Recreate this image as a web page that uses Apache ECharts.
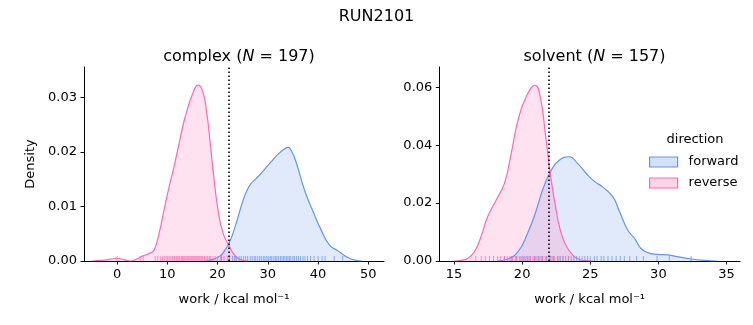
<!DOCTYPE html>
<html><head><meta charset="utf-8">
<script src="https://cdn.jsdelivr.net/npm/echarts@6/dist/echarts.min.js"></script>
<style>html,body{margin:0;padding:0;background:#fff}#c{width:753px;height:325px}</style>
</head><body><div id="c"></div>
<script>
// ---- data ----
const suptitle = 'RUN2101';
const nComplex = 197;
const nSolvent = 157;
const directions = ['forward', 'reverse'];

// complex, reverse KDE
const complexRevX = [-5, -3, -1.5, 0, 1.5, 2.7, 4, 5, 5.7, 6.7, 7.4, 8.35, 9.35, 10.3, 11.35, 12.5, 13.3, 14, 15, 16.1, 17, 17.8, 18.5, 19.1, 20.1, 21.1, 22.4, 23.2, 24.1, 25, 26];
const complexRevY = [0, 0.0001, 0.0003, 0.0005, 0.0002, 0.0000, 0.0004, 0.0009, 0.0011, 0.0015, 0.002, 0.005, 0.0093, 0.0133, 0.0173, 0.0222, 0.0255, 0.0278, 0.0305, 0.0322, 0.0312, 0.0275, 0.022, 0.0167, 0.0093, 0.0051, 0.0026, 0.0013, 0.0005, 0.0001, 0];
// complex, forward KDE
const complexFwdX = [17.5, 19.1, 20.5, 21.1, 22.4, 23.7, 25.1, 26.0, 26.7, 27.8, 29.0, 30.5, 32.3, 33.3, 34.0, 34.8, 35.7, 37.3, 38.9, 40.6, 42.3, 43.9, 45.6, 47.6, 48.7];
const complexFwdY = [0, 0.0003, 0.0009, 0.0015, 0.0035, 0.0069, 0.0112, 0.0132, 0.0142, 0.0152, 0.0164, 0.0180, 0.0198, 0.0205, 0.0208, 0.0200, 0.0179, 0.013, 0.0093, 0.0057, 0.0029, 0.0019, 0.0008, 0.0001, 0];
// solvent, reverse KDE
const solventRevX = [15.0, 15.5, 16.0, 16.5, 16.98, 17.47, 18.1, 18.7, 19.2, 19.7, 20.3, 20.95, 21.37, 21.7, 22.1, 22.45, 22.8, 23.2, 23.7, 24.2, 24.7, 25.2];
const solventRevY = [0, 0.0002, 0.0009, 0.0032, 0.0084, 0.0153, 0.0211, 0.0268, 0.0372, 0.0487, 0.0567, 0.0607, 0.0556, 0.0441, 0.0291, 0.0188, 0.0107, 0.0055, 0.0021, 0.0005, 0.0001, 0];
// solvent, forward KDE
const solventFwdX = [18.2, 18.9, 19.7, 20.4, 21.0, 21.5, 22.1, 22.7, 23.45, 24.05, 24.7, 25.3, 25.9, 26.65, 27.1, 27.75, 28.3, 28.7, 29.2, 29.95, 30.7, 31.4, 32.4, 33.4, 34.3];
const solventFwdY = [0, 0.0006, 0.0032, 0.0096, 0.017, 0.0245, 0.031, 0.0347, 0.036, 0.0338, 0.0303, 0.0275, 0.0256, 0.0222, 0.0176, 0.0107, 0.0075, 0.0044, 0.0029, 0.0023, 0.0021, 0.0015, 0.0007, 0.0002, 0];

// rug values
const complexRevRug = [0.0, 4.6, 5.2, 7.6, 8.1, 8.6, 9.0, 9.4, 9.8, 10.1, 10.4, 10.7, 11.0, 11.3, 11.5, 11.8, 12.0, 12.3, 12.5, 12.8, 13.0, 13.2, 13.4, 13.7, 13.9, 14.1, 14.3, 14.5, 14.7, 14.9, 15.1, 15.3, 15.5, 15.7, 15.9, 16.1, 16.3, 16.5, 16.7, 16.9, 17.1, 17.4, 17.7, 18.0, 18.3, 18.7, 19.1, 19.5, 20.0, 20.6, 21.3, 22.0, 23.5];
const complexFwdRug = [18.5, 20.8, 22.4, 23.0, 23.4, 23.8, 24.3, 24.7, 25.2, 25.6, 26.0, 26.5, 26.9, 27.3, 27.6, 28.0, 28.4, 28.7, 29.1, 29.4, 29.8, 30.1, 30.5, 30.8, 31.2, 31.5, 31.8, 32.1, 32.5, 32.8, 33.1, 33.4, 33.7, 34.0, 34.3, 34.6, 35.0, 35.3, 35.7, 36.1, 36.5, 37.0, 37.4, 37.9, 38.5, 39.2, 40.0, 40.8, 41.4, 43.2, 44.9];
const solventRevRug = [16.6, 17.0, 17.3, 17.6, 17.9, 18.2, 18.4, 18.7, 18.9, 19.1, 19.3, 19.5, 19.6, 19.8, 19.9, 20.1, 20.2, 20.4, 20.5, 20.6, 20.8, 20.9, 21.0, 21.1, 21.3, 21.4, 21.5, 21.7, 21.8, 22.0, 22.2, 22.4, 22.7, 23.0, 23.4];
const solventFwdRug = [18.7, 19.2, 19.6, 20.0, 20.3, 20.6, 20.9, 21.2, 21.5, 21.8, 22.1, 22.3, 22.6, 22.8, 23.0, 23.2, 23.4, 23.6, 23.8, 24.0, 24.2, 24.4, 24.6, 24.8, 25.0, 25.3, 25.5, 25.8, 26.0, 26.3, 26.6, 26.9, 27.2, 27.5, 27.9, 28.4, 28.9, 29.9, 30.8, 32.4];

// dotted reference lines
const complexRef = 22.3;
const solventRef = 21.95;

// ticks
const complexXTicks = [0, 10, 20, 30, 40, 50];
const complexYTicks = [0, 0.01, 0.02, 0.03];
const solventXTicks = [15, 20, 25, 30, 35];
const solventYTicks = [0, 0.02, 0.04, 0.06];

// ---- styling ----
const FONT = 'DejaVu Sans';
const BLUE = '#6495ED', PINK = '#FF69B4';
const BLUE_F = 'rgba(100,149,237,0.28)', PINK_F = 'rgba(255,105,180,0.28)';

const pairs = (xs, ys) => xs.map((v, i) => [v, ys[i]]);

function xAxis(idx, min, max, ticks) {
  return {
    type: 'value', gridIndex: idx, min, max,
    axisLine: {show: true, onZero: false, lineStyle: {color: '#000', width: 1}},
    axisTick: {show: true, length: 3.5, lineStyle: {color: '#000'}, customValues: ticks},
    axisLabel: {color: '#000', fontSize: 13, fontFamily: FONT, margin: 7, customValues: ticks},
    splitLine: {show: false},
    name: 'work / kcal mol\u207B\u00B9', nameLocation: 'middle', nameGap: 32,
    nameTextStyle: {color: '#000', fontSize: 13, fontFamily: FONT}
  };
}
function yAxis(idx, max, ticks, name) {
  return {
    type: 'value', gridIndex: idx, min: 0, max,
    axisLine: {show: true, onZero: false, lineStyle: {color: '#000', width: 1}},
    axisTick: {show: true, length: 3.5, lineStyle: {color: '#000'}, customValues: ticks},
    axisLabel: {color: '#000', fontSize: 13, fontFamily: FONT, margin: 7, customValues: ticks,
      formatter: v => v.toFixed(2)},
    splitLine: {show: false},
    name: name || '', nameLocation: 'middle', nameGap: 47, nameRotate: 90,
    nameTextStyle: {color: '#000', fontSize: 13, fontFamily: FONT}
  };
}
function kde(name, idx, data, color, fill, refX) {
  const s = {
    type: 'line', name, xAxisIndex: idx, yAxisIndex: idx, data,
    smooth: 0.5, showSymbol: false, symbol: 'none',
    lineStyle: {color, width: 1.2}, itemStyle: {color},
    areaStyle: {color: fill, origin: 'start'}, z: 3
  };
  if (refX !== undefined) {
    s.markLine = {silent: true, symbol: 'none', label: {show: false},
      lineStyle: {type: [1.5, 2.5], color: '#000', width: 1.6},
      data: [{xAxis: refX}], z: 10};
  }
  return s;
}
function rug(name, idx, vals, color) {
  return {
    type: 'custom', name, xAxisIndex: idx, yAxisIndex: idx,
    data: vals.map(v => [v, 0]), z: 4, silent: true,
    renderItem: (params, api) => {
      const p = api.coord([api.value(0), 0]);
      return {type: 'line', shape: {x1: p[0], y1: p[1], x2: p[0], y2: p[1] - 5},
        style: {stroke: color, lineWidth: 1, opacity: 0.75}};
    }
  };
}
function subTitle(label, n, cx) {
  return {
    text: '{a|' + label + ' (}{i|N}{a| = ' + n + ')}',
    left: cx, top: 44, textAlign: 'center',
    textStyle: {fontWeight: 'normal', rich: {
      a: {fontSize: 16, fontFamily: FONT, color: '#000', fontWeight: 'normal'},
      i: {fontSize: 16, fontFamily: FONT, fontStyle: 'italic', color: '#000', fontWeight: 'normal'}
    }}
  };
}

const chart = echarts.init(document.getElementById('c'), null, {renderer: 'canvas'});
chart.setOption({
  animation: false,
  backgroundColor: '#fff',
  title: [
    {text: suptitle, left: 'center', top: 4, textStyle: {fontSize: 16, fontWeight: 'normal', fontFamily: FONT, color: '#000'}},
    subTitle('complex', nComplex, 234),
    subTitle('solvent', nSolvent, 589.5)
  ],
  grid: [
    {left: 84, top: 67, width: 300, height: 194},
    {left: 439.3, top: 67, width: 300.7, height: 194}
  ],
  xAxis: [xAxis(0, -6.57, 53.12, complexXTicks), xAxis(1, 13.92, 35.99, solventXTicks)],
  yAxis: [yAxis(0, 0.03553, complexYTicks, 'Density'), yAxis(1, 0.0670, solventYTicks)],
  legend: {
    orient: 'vertical', left: 649, top: 154, padding: 0, itemGap: 5,
    icon: 'rect', itemWidth: 28, itemHeight: 10,
    textStyle: {fontSize: 13, fontFamily: FONT, color: '#000', lineHeight: 16, padding: [0, 0, 0, 6]},
    data: [
      {name: directions[0], itemStyle: {color: BLUE_F, borderColor: BLUE, borderWidth: 1.2}},
      {name: directions[1], itemStyle: {color: PINK_F, borderColor: PINK, borderWidth: 1.2}}
    ]
  },
  graphic: [{type: 'text', x: 695, y: 133, style: {text: 'direction', fontSize: 13, fontFamily: FONT,
    fill: '#000', textAlign: 'center', textVerticalAlign: 'top'}}],
  series: [
    kde(directions[0], 0, pairs(complexFwdX, complexFwdY), BLUE, BLUE_F),
    kde(directions[1], 0, pairs(complexRevX, complexRevY), PINK, PINK_F, complexRef),
    kde(directions[0], 1, pairs(solventFwdX, solventFwdY), BLUE, BLUE_F),
    kde(directions[1], 1, pairs(solventRevX, solventRevY), PINK, PINK_F, solventRef),
    rug('forward rug', 0, complexFwdRug, BLUE),
    rug('reverse rug', 0, complexRevRug, PINK),
    rug('forward rug', 1, solventFwdRug, BLUE),
    rug('reverse rug', 1, solventRevRug, PINK)
  ]
});
</script></body></html>
